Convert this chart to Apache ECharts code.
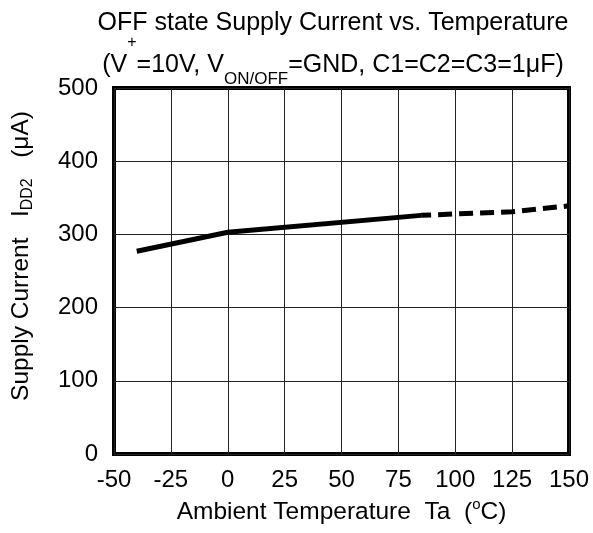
<!DOCTYPE html>
<html><head><meta charset="utf-8">
<script src="https://cdn.jsdelivr.net/npm/echarts@6/dist/echarts.min.js"></script>
<style>html,body{margin:0;padding:0;background:#fff}#c{width:593px;height:533px}</style>
</head><body><div id="c"></div>
<script>
const tempsSolid = [-40, 0, 85];
const currentSolid = [277, 303, 326];
const tempsDash = [85, 125, 150];
const currentDash = [326, 331, 339];
const xTicks = [-50, -25, 0, 25, 50, 75, 100, 125, 150];
const yTicks = [0, 100, 200, 300, 400, 500];

const FF = '"Liberation Sans", Arial, sans-serif';
const chart = echarts.init(document.getElementById('c'));
chart.setOption({
  animation: false,
  backgroundColor: '#fff',
  title: {
    left: 333, top: 11, padding: 0, textAlign: 'center',
    text: '{t|OFF state Supply Current vs. Temperature}\n{p|(V}{sup|+}{p|=10V, V}{sub|ON/OFF}{p|=GND, C1=C2=C3=1μF)}',
    textStyle: {
      fontFamily: FF, color: '#000', fontWeight: 'normal', fontSize: 25,
      rich: {
        t: {fontFamily: FF, fontSize: 25, color: '#000', lineHeight: 24},
        p: {fontFamily: FF, fontSize: 25, color: '#000', lineHeight: 60},
        sup: {fontFamily: FF, fontSize: 16, color: '#000', lineHeight: 16, verticalAlign: 'top'},
        sub: {fontFamily: FF, fontSize: 17, color: '#000', lineHeight: 18, verticalAlign: 'bottom', padding: [0, 0, 7, 0]}
      }
    }
  },
  grid: {left: 114, right: 24, top: 88, bottom: 79, show: true, borderColor: '#000', borderWidth: 4, backgroundColor: 'transparent', containLabel: false, outerBoundsMode: 'none'},
  xAxis: {
    type: 'value', min: xTicks[0], max: xTicks[xTicks.length-1], interval: 25,
    axisLine: {show: false}, axisTick: {show: false},
    splitLine: {show: true, lineStyle: {color: '#222', width: 1}},
    axisLabel: {color: '#000', fontFamily: FF, fontSize: 24, margin: 14},
    name: '{a|Ambient Temperature  Ta  (}{o|o}{a|C)}',
    nameLocation: 'middle', nameGap: 37,
    nameTextStyle: {
      rich: {
        a: {fontFamily: FF, fontSize: 24.5, color: '#000', lineHeight: 30},
        o: {fontFamily: FF, fontSize: 15, color: '#000', lineHeight: 14, verticalAlign: 'top'}
      }
    }
  },
  yAxis: {
    type: 'value', min: yTicks[0], max: yTicks[yTicks.length-1], interval: 100,
    axisLine: {show: false}, axisTick: {show: false},
    splitLine: {show: true, lineStyle: {color: '#222', width: 1}},
    axisLabel: {color: '#000', fontFamily: FF, fontSize: 24, margin: 16},
    name: '{a|Supply Current   I}{s|DD2}{a|   (μA)}',
    nameLocation: 'middle', nameGap: 78,
    nameTextStyle: {
      padding: [0, 0, 0, 30],
      rich: {
        a: {fontFamily: FF, fontSize: 24.5, color: '#000', lineHeight: 30},
        s: {fontFamily: FF, fontSize: 16, color: '#000', lineHeight: 16, verticalAlign: 'bottom'}
      }
    }
  },
  series: [
    {
      type: 'line', data: tempsSolid.map((t, i) => [t, currentSolid[i]]),
      showSymbol: false, symbol: 'none',
      lineStyle: {color: '#000', width: 5, cap: 'butt', join: 'miter'}
    },
    {
      type: 'line', data: tempsDash.map((t, i) => [t, currentDash[i]]),
      showSymbol: false, symbol: 'none',
      lineStyle: {color: '#000', width: 5, type: [14, 7], dashOffset: 4, cap: 'butt'}
    }
  ]
});
</script></body></html>
